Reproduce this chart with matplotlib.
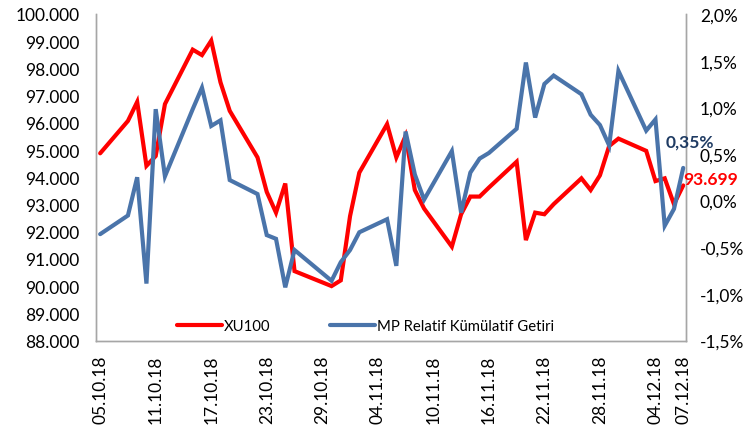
import matplotlib
matplotlib.use("Agg")
import matplotlib.pyplot as plt
import matplotlib.dates as mdates
import numpy as np
import pandas as pd
from matplotlib.ticker import FuncFormatter, FixedLocator

plt.rcParams['font.family'] = ['Lato', 'DejaVu Sans']

dates = pd.to_datetime([
    "2018-10-05", "2018-10-08", "2018-10-09", "2018-10-10", "2018-10-11", "2018-10-12",
    "2018-10-15", "2018-10-16", "2018-10-17", "2018-10-18", "2018-10-19",
    "2018-10-22", "2018-10-23", "2018-10-24", "2018-10-25", "2018-10-26",
    "2018-10-30", "2018-10-31", "2018-11-01", "2018-11-02",
    "2018-11-05", "2018-11-06", "2018-11-07", "2018-11-08", "2018-11-09",
    "2018-11-12", "2018-11-13", "2018-11-14", "2018-11-15", "2018-11-16",
    "2018-11-19", "2018-11-20", "2018-11-21", "2018-11-22", "2018-11-23",
    "2018-11-26", "2018-11-27", "2018-11-28", "2018-11-29", "2018-11-30",
    "2018-12-03", "2018-12-04", "2018-12-05", "2018-12-06", "2018-12-07",
])

xu100 = [
    94.88, 96.07, 96.77, 94.42, 94.78, 96.69,
    98.69, 98.49, 99.02, 97.49, 96.44,
    94.73, 93.46, 92.70, 93.77, 90.55,
    90.00, 90.21, 92.57, 94.17,
    95.95, 94.73, 95.52, 93.53, 92.85,
    91.45, 92.64, 93.29, 93.29, 93.62,
    94.57, 91.69, 92.70, 92.64, 93.01,
    93.96, 93.53, 94.07, 95.15, 95.42,
    94.97, 93.86, 93.96, 93.01, 93.699,
]

mp_relatif = [
    -0.36, -0.16, 0.25, -0.89, 0.98, 0.26,
    0.98, 1.21, 0.80, 0.86, 0.22,
    0.07, -0.37, -0.41, -0.93, -0.53,
    -0.86, -0.66, -0.53, -0.34,
    -0.20, -0.70, 0.74, 0.28, 0.01,
    0.53, -0.13, 0.30, 0.45, 0.51,
    0.77, 1.48, 0.89, 1.25, 1.34,
    1.14, 0.92, 0.81, 0.59, 1.39,
    0.75, 0.87, -0.27, -0.09, 0.35,
]

tick_dates = pd.to_datetime([
    "2018-10-05", "2018-10-11", "2018-10-17", "2018-10-23", "2018-10-29",
    "2018-11-04", "2018-11-10", "2018-11-16", "2018-11-22", "2018-11-28",
    "2018-12-04", "2018-12-07",
])

series_names = ["XU100", "MP Relatif Kümülatif Getiri"]
red = "#FF0000"
blue = "#4A74AA"

fig = plt.figure(figsize=(7.54, 4.39), dpi=100)
ax = fig.add_axes([96/754, 1-341.5/439, (686-96)/754, (341.5-15)/439])
ax2 = ax.twinx()

l1, = ax.plot(dates, xu100, color=red, lw=3.0, solid_joinstyle='miter',
              solid_capstyle='round')
l2, = ax2.plot(dates, np.array(mp_relatif) / 100, color=blue, lw=3.0,
               solid_joinstyle='miter', solid_capstyle='round')

ax.set_ylim(88, 100)
ax.set_yticks(np.arange(88, 100.1, 1))
ax.yaxis.set_major_formatter(FuncFormatter(lambda v, p: f"{v:.3f}"))
ax2.set_ylim(-0.015, 0.020)
ax2.set_yticks(np.arange(-0.015, 0.0201, 0.005))
ax2.yaxis.set_major_formatter(FuncFormatter(lambda v, p: f"{v*100:.1f}%".replace(".", ",")))

x0 = mdates.date2num(pd.Timestamp("2018-10-05")) - 0.45
x1 = mdates.date2num(pd.Timestamp("2018-12-07")) + 0.3
ax.set_xlim(x0, x1)
ax.xaxis.set_major_locator(FixedLocator(mdates.date2num(tick_dates)))
ax.xaxis.set_major_formatter(mdates.DateFormatter("%d.%m.%y"))

for a in (ax, ax2):
    for s in a.spines.values():
        s.set_color("#A6A6A6")
        s.set_linewidth(1.0)
    a.spines['top'].set_visible(False)
    a.tick_params(length=0, labelsize=12.5, colors="#000000")
ax.tick_params(axis='y', pad=12)
ax2.tick_params(axis='y', pad=10)
ax.tick_params(axis='x', pad=10)
for lab in ax.get_xticklabels():
    lab.set_rotation(90)
    lab.set_va('top')
    lab.set_ha('center')

leg = ax2.legend([l1, l2], series_names, loc='lower center', ncol=2, frameon=False,
                 fontsize=10.7, bbox_to_anchor=(0.457, -0.018), handlelength=3.0,
                 handletextpad=0.15, columnspacing=4.0)

ax2.text(mdates.date2num(dates[-1]) - 1.9, 0.0063, "0,35%", color="#1F3B63",
         fontsize=12.5, fontweight='bold', ha='left', va='center')
ax2.text(mdates.date2num(dates[-1]) - 0.05, xu100[-1] + 0.25, "93.699", color=red,
         fontsize=12.5, fontweight='bold', ha='left', va='center',
         transform=ax.transData)

fig.savefig("out.png", dpi=100)
